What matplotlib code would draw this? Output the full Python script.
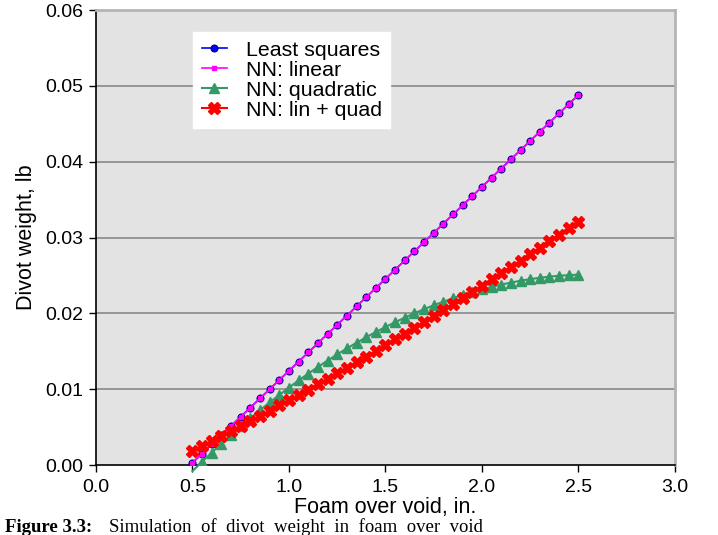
import matplotlib
matplotlib.use("Agg")
import matplotlib.pyplot as plt

plt.rcParams['font.family'] = ['Liberation Sans', 'DejaVu Sans']

# foam thickness over the void, inches
foam = [0.50, 0.55, 0.60, 0.65, 0.70, 0.75, 0.80, 0.85, 0.90, 0.95,
        1.00, 1.05, 1.10, 1.15, 1.20, 1.25, 1.30, 1.35, 1.40, 1.45,
        1.50, 1.55, 1.60, 1.65, 1.70, 1.75, 1.80, 1.85, 1.90, 1.95,
        2.00, 2.05, 2.10, 2.15, 2.20, 2.25, 2.30, 2.35, 2.40, 2.45,
        2.50]

# divot weight, lb
least_squares = [0.0003, 0.00151, 0.00273, 0.00394, 0.00515, 0.00636, 0.00758, 0.00879, 0.0100, 0.01121,
                 0.01243, 0.01364, 0.01485, 0.01606, 0.01728, 0.01849, 0.0197, 0.02091, 0.02213, 0.02334,
                 0.02455, 0.02576, 0.02698, 0.02819, 0.0294, 0.03061, 0.03183, 0.03304, 0.03425, 0.03546,
                 0.03668, 0.03789, 0.0391, 0.04031, 0.04153, 0.04274, 0.04395, 0.04516, 0.04638, 0.04759,
                 0.0488]

nn_linear = [0.0003, 0.00151, 0.00273, 0.00394, 0.00515, 0.00636, 0.00758, 0.00879, 0.0100, 0.01121,
             0.01243, 0.01364, 0.01485, 0.01606, 0.01728, 0.01849, 0.0197, 0.02091, 0.02213, 0.02334,
             0.02455, 0.02576, 0.02698, 0.02819, 0.0294, 0.03061, 0.03183, 0.03304, 0.03425, 0.03546,
             0.03668, 0.03789, 0.0391, 0.04031, 0.04153, 0.04274, 0.04395, 0.04516, 0.04638, 0.04759,
             0.0488]

nn_quadratic = [-0.0008, 0.00044, 0.00164, 0.00282, 0.00397, 0.00508, 0.00617, 0.00723, 0.00825, 0.00925,
                0.01021, 0.01115, 0.01205, 0.01293, 0.01377, 0.01458, 0.01537, 0.01612, 0.01684, 0.01754,
                0.0182, 0.01883, 0.01943, 0.02001, 0.02055, 0.02106, 0.02154, 0.02199, 0.02241, 0.0228,
                0.02316, 0.02349, 0.02379, 0.02406, 0.0243, 0.02451, 0.02469, 0.02484, 0.02495, 0.02504,
                0.0251]

nn_lin_quad = [0.0019, 0.00254, 0.00318, 0.00383, 0.00449, 0.00515, 0.00582, 0.00649, 0.00717, 0.00786,
               0.00855, 0.00925, 0.00995, 0.01066, 0.01138, 0.0121, 0.01283, 0.01356, 0.0143, 0.01505,
               0.0158, 0.01656, 0.01732, 0.0181, 0.01887, 0.01965, 0.02044, 0.02123, 0.02203, 0.02284,
               0.02365, 0.02447, 0.02529, 0.02612, 0.02696, 0.0278, 0.02865, 0.0295, 0.03036, 0.03123,
               0.0321]

x_ticks = [0.0, 0.5, 1.0, 1.5, 2.0, 2.5, 3.0]
y_ticks = [0.00, 0.01, 0.02, 0.03, 0.04, 0.05, 0.06]

green = '#339966'

fig = plt.figure(figsize=(7.18, 5.35), dpi=100)
ax = fig.add_axes([0.1337, 0.1308, 0.8063, 0.8505])
ax.set_facecolor('#e3e3e3')

for y in y_ticks[1:-1]:
    ax.axhline(y, color='#808080', lw=1.1, zorder=1)

ax.plot(foam, least_squares, color='#0000ff', lw=1.2, marker='o', ms=5,
        mfc='#0000ff', mec='#000080', mew=0.8, label='Least squares', zorder=3)
ax.plot(foam, nn_linear, color='#ff00ff', lw=1.2, marker='s', ms=3,
        mfc='#ff00ff', mec='#ff00ff', label='NN: linear', zorder=4)
ax.plot(foam, nn_quadratic, color=green, lw=1.5, marker='^', ms=7,
        mfc=green, mec=green, label='NN: quadratic', zorder=5)
# first segment of the quadratic fit dips below zero; let it run past the axis
ax.plot(foam[:2], nn_quadratic[:2], color=green, lw=1.5, clip_on=False, zorder=5)
ax.plot(foam, nn_lin_quad, color='#ff0000', lw=1.5, marker='X', ms=9,
        mfc='#ff0000', mec='#ff0000', label='NN: lin + quad', zorder=6)

ax.set_xlim(0, 3.0)
ax.set_ylim(0, 0.06)
ax.set_xticks(x_ticks)
ax.set_yticks(y_ticks)
ax.set_xticklabels(['%.1f' % v for v in x_ticks])
ax.set_yticklabels(['%.2f' % v for v in y_ticks])
ax.tick_params(labelsize=14, length=5, width=1, direction='out', color='black')
ax.tick_params(axis='x', pad=5)
ax.tick_params(axis='y', pad=4)

for side in ('left', 'bottom'):
    ax.spines[side].set_color('black')
    ax.spines[side].set_linewidth(1.2)
for side in ('top', 'right'):
    ax.spines[side].set_color('#b4b4b4')
    ax.spines[side].set_linewidth(2)

ax.set_xlabel('Foam over void, in.', fontsize=15.5, labelpad=1)
ax.set_ylabel('Divot weight, lb', fontsize=15.5, labelpad=6)

leg = ax.legend(loc='upper left', bbox_to_anchor=(0.1675, 0.9516), borderaxespad=0,
                fontsize=15.4, frameon=True, fancybox=False, handlelength=1.2,
                handletextpad=0.87, labelspacing=0.05, borderpad=0.4)
leg.get_frame().set_facecolor('white')
leg.get_frame().set_edgecolor('white')
leg.get_frame().set_alpha(1)

fig.text(0.007, 0.006, 'Figure 3.3:', family='Liberation Serif', weight='bold',
         fontsize=13.5, va='baseline')
fig.text(0.152, 0.006, 'Simulation  of  divot  weight  in  foam  over  void',
         family='Liberation Serif', fontsize=13.5, va='baseline')

fig.savefig('out.png', dpi=100)
